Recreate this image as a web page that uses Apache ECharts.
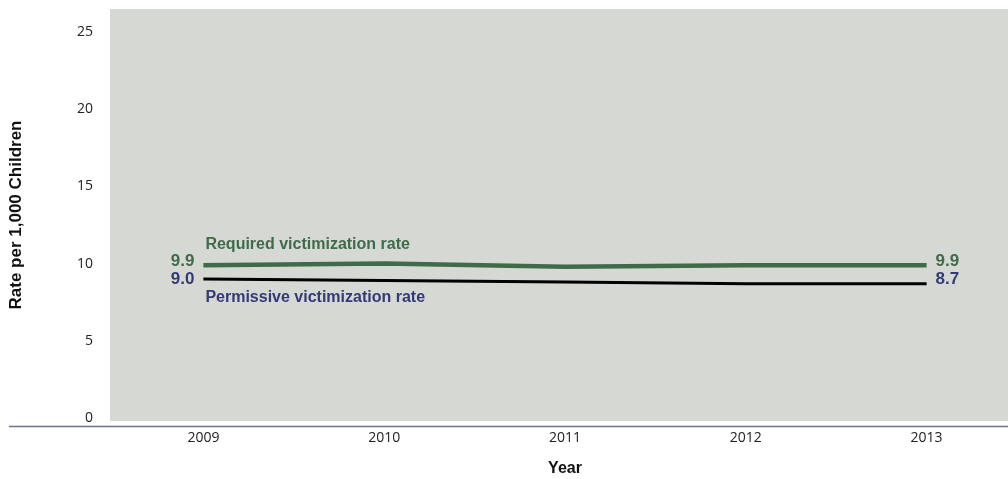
<!DOCTYPE html>
<html>
<head>
<meta charset="utf-8">
<title>Victimization rates</title>
<script src="https://cdn.jsdelivr.net/npm/echarts@6/dist/echarts.min.js"></script>
<style>
  html, body { margin: 0; padding: 0; background: #ffffff; }
  #chart { width: 1008px; height: 479px; }
</style>
</head>
<body>
<div id="chart"></div>
<script>
// Years on the horizontal axis
const years = ['2009', '2010', '2011', '2012', '2013'];
// Rates per 1,000 children
const requiredRate = [9.9, 10.0, 9.8, 9.9, 9.9];
const permissiveRate = [9.0, 8.9, 8.8, 8.7, 8.7];
// Value-axis labels shown
const yTickLabels = [0, 5, 10, 15, 20, 25];

const GREEN = '#3f6b4b';
const NAVY = '#333a74';
const BOLD = 'Liberation Sans, Arial, sans-serif';
const TICK_FONT = 'Open Sans, sans-serif';

const chart = echarts.init(document.getElementById('chart'));

// End labels: value on the left of the first point, right of the last
function endLabels(values, color, offL, offR) {
  return values.map((v, i) => {
    const item = { value: v };
    if (i === 0 || i === values.length - 1) {
      item.label = {
        show: true,
        position: i === 0 ? 'left' : 'right',
        distance: 9,
        offset: i === 0 ? offL : offR,
        formatter: (p) => p.value.toFixed(1),
        color: color,
        fontFamily: BOLD,
        fontWeight: 'bold',
        fontSize: 17
      };
    }
    return item;
  });
}

// Series name placed next to the first point
function nameMark(name, value, color, dy) {
  return {
    symbol: 'circle',
    symbolSize: 0,
    silent: true,
    data: [{
      coord: [years[0], value],
      label: {
        show: true,
        position: 'right',
        distance: 0,
        offset: [2, dy],
        formatter: name,
        color: color,
        fontFamily: BOLD,
        fontWeight: 'bold',
        fontSize: 16
      }
    }]
  };
}

// Only whole multiples listed in yTickLabels get a label
function yLabel(v) {
  const r = Math.round(v);
  return Math.abs(v - r) < 1e-6 && yTickLabels.indexOf(r) >= 0 ? String(r) : '';
}

chart.setOption({
  animation: false,
  grid: {
    left: 113, top: 9, width: 904, height: 412,
    containLabel: false,
    outerBoundsMode: 'none',
    show: true, backgroundColor: '#d6d8d3', borderWidth: 0
  },
  xAxis: {
    type: 'category',
    data: years,
    boundaryGap: true,
    axisLine: { show: false },
    axisTick: { show: false },
    axisLabel: {
      margin: 10, color: '#222', fontSize: 14,
      fontFamily: TICK_FONT
    },
    name: 'Year',
    nameLocation: 'middle',
    nameGap: 40,
    nameTextStyle: { fontFamily: BOLD, fontWeight: 'bold', fontSize: 16, color: '#111' }
  },
  yAxis: {
    type: 'value',
    min: -0.2,
    max: 26.5,
    interval: 0.2,
    splitLine: { show: false },
    axisLine: { show: false },
    axisTick: { show: false },
    axisLabel: {
      margin: 20, color: '#222', fontSize: 14,
      fontFamily: TICK_FONT,
      formatter: yLabel
    },
    name: 'Rate per 1,000 Children',
    nameLocation: 'middle',
    nameRotate: 90,
    nameGap: 88,
    nameTextStyle: { fontFamily: BOLD, fontWeight: 'bold', fontSize: 17, color: '#111' }
  },
  graphic: [
    {
      // grey panel edge left of the first band
      type: 'rect',
      shape: { x: 110, y: 9, width: 4, height: 412 },
      style: { fill: '#d6d8d3' },
      silent: true, z: -1
    },
    {
      type: 'line',
      shape: { x1: 9, y1: 426.5, x2: 1008, y2: 426.5 },
      style: { stroke: '#6b7396', lineWidth: 1.5 },
      silent: true
    }
  ],
  series: [
    {
      name: 'Required victimization rate',
      type: 'line',
      data: endLabels(requiredRate, GREEN, [0, -4], [0, -4]),
      symbol: 'circle',
      symbolSize: 0,
      showSymbol: true,
      lineStyle: { color: GREEN, width: 4.5 },
      itemStyle: { color: GREEN },
      markPoint: nameMark('Required victimization rate', requiredRate[0], GREEN, -21),
      z: 3
    },
    {
      name: 'Permissive victimization rate',
      type: 'line',
      data: endLabels(permissiveRate, NAVY, [0, 0], [0, -4]),
      symbol: 'circle',
      symbolSize: 0,
      showSymbol: true,
      lineStyle: { color: '#000000', width: 3 },
      itemStyle: { color: '#000000' },
      markPoint: nameMark('Permissive victimization rate', permissiveRate[0], NAVY, 19),
      z: 2
    }
  ]
});
</script>
</body>
</html>
